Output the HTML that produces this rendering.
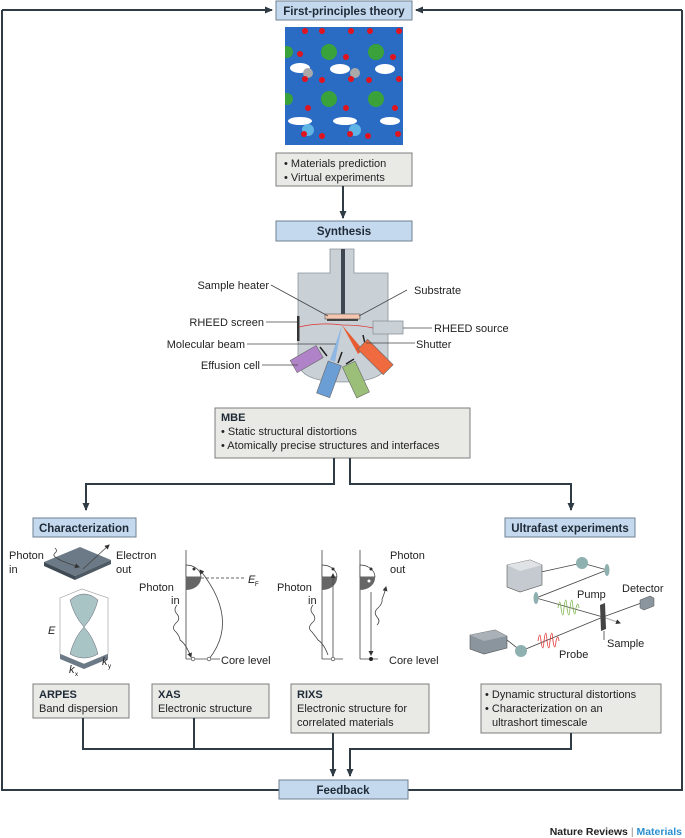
<!DOCTYPE html>
<html><head><meta charset="utf-8"><style>
body{margin:0;background:#fff;width:685px;height:838px;overflow:hidden}
svg{display:block;font-family:"Liberation Sans",sans-serif}
.bx{fill:#c5d9ee;stroke:#6f8090;stroke-width:1}
.gb{fill:#e9e9e6;stroke:#7d7d7d;stroke-width:1}
.ln{stroke:#2f3b45;stroke-width:2;fill:none}
.t{font-size:11px;fill:#222}
.tb{font-size:11.5px;font-weight:bold;fill:#1e2a36}
.thin{stroke:#444;stroke-width:0.8;fill:none}
</style></head><body>
<svg width="685" height="838" viewBox="0 0 685 838">
<defs>
<marker id="a" markerWidth="8" markerHeight="8" refX="7" refY="4" orient="auto" markerUnits="userSpaceOnUse"><path d="M0,0.5 L8,4 L0,7.5 Z" fill="#2f3b45"/></marker>
<marker id="s" markerWidth="5" markerHeight="5" refX="4" refY="2.5" orient="auto" markerUnits="userSpaceOnUse"><path d="M0,0 L5,2.5 L0,5 Z" fill="#333"/></marker>
<clipPath id="cc"><rect x="285" y="27" width="118" height="118"/></clipPath>
</defs>
<path class="ln" d="M2,10 H272" marker-end="url(#a)"/>
<path class="ln" d="M682,10 H416" marker-end="url(#a)"/>
<path class="ln" d="M2,10 V790 H279"/>
<path class="ln" d="M682,10 V790 H408"/>
<rect class="bx" x="276" y="1" width="136" height="19"/>
<text class="tb" x="344" y="15" text-anchor="middle">First-principles theory</text>
<g clip-path="url(#cc)">
<rect x="285" y="27" width="118" height="118" fill="#2a6bc4"/>
<g fill="#fff">
<ellipse cx="300" cy="68" rx="10" ry="5"/><ellipse cx="340" cy="69" rx="10" ry="5"/><ellipse cx="385" cy="69" rx="10" ry="5"/>
<ellipse cx="300" cy="121" rx="12" ry="4"/><ellipse cx="345" cy="121" rx="12" ry="4"/><ellipse cx="390" cy="121" rx="10" ry="4"/>
</g>
<g fill="#3aa23a"><circle cx="329" cy="52" r="8"/><circle cx="376" cy="52" r="8"/><circle cx="329" cy="99" r="8"/><circle cx="376" cy="99" r="8"/><circle cx="287" cy="52" r="6"/><circle cx="287" cy="99" r="6"/></g>
<g fill="#aaa"><circle cx="308" cy="73" r="5"/><circle cx="355" cy="73" r="5"/></g>
<g fill="#5fb4e6"><circle cx="308" cy="130" r="6"/><circle cx="355" cy="130" r="6"/></g>
<g fill="#e0141e"><circle cx="305" cy="31" r="3"/><circle cx="322" cy="31" r="3"/><circle cx="351" cy="31" r="3"/><circle cx="370" cy="31" r="3"/><circle cx="399" cy="31" r="3"/>
<circle cx="300" cy="54" r="3"/><circle cx="346" cy="57" r="3"/><circle cx="393" cy="57" r="3"/>
<circle cx="305" cy="79" r="3"/><circle cx="322" cy="80" r="3"/><circle cx="351" cy="79" r="3"/><circle cx="369" cy="80" r="3"/><circle cx="399" cy="79" r="3"/>
<circle cx="308" cy="108" r="3"/><circle cx="346" cy="108" r="3"/><circle cx="395" cy="108" r="3"/>
<circle cx="304" cy="134" r="3"/><circle cx="322" cy="136" r="3"/><circle cx="350" cy="134" r="3"/><circle cx="368" cy="136" r="3"/><circle cx="398" cy="134" r="3"/></g>
</g>
<rect class="gb" x="276" y="153" width="136" height="33"/>
<text class="t" x="284" y="167">• Materials prediction</text>
<text class="t" x="284" y="181">• Virtual experiments</text>
<path class="ln" d="M343,186 V218" stroke-width="1.5" marker-end="url(#a)"/>
<rect class="bx" x="276" y="221" width="136" height="20"/>
<text class="tb" x="344" y="235" text-anchor="middle">Synthesis</text>
<path d="M330,249 H354 V273 H388 V360 Q388,382 343,382 Q298,382 298,360 V273 H330 Z" fill="#c9d0d6" stroke="#8a949c" stroke-width="0.8"/>
<rect x="341" y="249" width="4" height="66" fill="#3d4650"/>
<rect x="325" y="314" width="35" height="5" fill="#f4c6b0" stroke="#555" stroke-width="0.6"/>
<rect x="327" y="319" width="31" height="2" fill="#444"/>
<rect x="297" y="316" width="2.5" height="25" fill="#333"/>
<rect x="373" y="321" width="30" height="13" fill="#c9d0d6" stroke="#8a949c" stroke-width="0.8"/>
<path d="M299,327 Q320,322 342,325 Q360,325 373,328" stroke="#d33" stroke-width="0.8" fill="none"/>
<path d="M342,325 L335,362 L330,360 Z" fill="#7fb0e6" opacity="0.8"/>
<path d="M342,325 L363,350 L358,354 Z" fill="#e85a30"/>
<g stroke="#222" stroke-width="1.5"><line x1="363" y1="335" x2="366" y2="348"/><line x1="320" y1="347" x2="327" y2="356"/><line x1="342" y1="352" x2="338" y2="363"/><line x1="346" y1="364" x2="354" y2="359"/></g>
<g transform="rotate(60 313 360)"><rect x="302" y="350" width="14" height="30" fill="#b083c8" stroke="#666" stroke-width="0.6"/></g>
<g transform="rotate(20 328 379)"><rect x="322" y="362" width="14" height="34" fill="#6c9ed6" stroke="#666" stroke-width="0.6"/></g>
<g transform="rotate(-25 355 380)"><rect x="349" y="363" width="14" height="34" fill="#9bbf78" stroke="#666" stroke-width="0.6"/></g>
<g transform="rotate(-45 374 357)"><rect x="368" y="340" width="14" height="36" fill="#ef6a3e" stroke="#666" stroke-width="0.6"/></g>
<g class="thin" stroke="#666"><path d="M271,285 L328,316"/><path d="M359,316 L407,290"/><path d="M266,322 H297"/><path d="M403,328 H432"/><path d="M247,344 H336"/><path d="M366,343 H415"/><path d="M262,365 H298"/></g>
<text class="t" x="269" y="289" text-anchor="end">Sample heater</text>
<text class="t" x="414" y="294">Substrate</text>
<text class="t" x="264" y="326" text-anchor="end">RHEED screen</text>
<text class="t" x="434" y="332">RHEED source</text>
<text class="t" x="245" y="348" text-anchor="end">Molecular beam</text>
<text class="t" x="416" y="348">Shutter</text>
<text class="t" x="260" y="369" text-anchor="end">Effusion cell</text>
<rect class="gb" x="215" y="408" width="255" height="50"/>
<text class="tb" x="221" y="421" style="font-size:11px">MBE</text>
<text class="t" x="221" y="435">• Static structural distortions</text>
<text class="t" x="221" y="449">• Atomically precise structures and interfaces</text>
<path class="ln" d="M334,458 V484 H86 V510" marker-end="url(#a)"/>
<path class="ln" d="M350,458 V484 H571 V510" marker-end="url(#a)"/>
<rect class="bx" x="33" y="518" width="103" height="19"/>
<text class="tb" x="84" y="532" text-anchor="middle">Characterization</text>
<rect class="bx" x="505" y="518" width="130" height="19"/>
<text class="tb" x="570" y="532" text-anchor="middle">Ultrafast experiments</text>
<!-- ARPES -->
<path d="M44,562 L80,547 L111,560 L75,576 Z" fill="#6b7a86"/>
<path d="M44,562 L75,576 L75,580 L44,566 Z" fill="#3f4a54"/><path d="M75,576 L111,560 L111,564 L75,580 Z" fill="#4e5a64"/>
<path d="M55,548 q3,3 0,5 q-3,3 2,5 q4,3 8,4 q4,2 14,5" class="thin" marker-end="url(#s)"/>
<path d="M83,569 L109,545" class="thin" marker-end="url(#s)"/>
<text class="t" x="9" y="559">Photon</text><text class="t" x="9" y="573">in</text>
<text class="t" x="116" y="559">Electron</text><text class="t" x="116" y="573">out</text>
<path d="M60,598 L82,589 L108,598 L108,654 L84,664 L60,654 Z" fill="none" stroke="#999" stroke-width="0.6"/>
<path d="M60,654 L84,664 L108,654 L108,659 L84,669 L60,659 Z" fill="#6b7a86"/>
<path d="M70,600 Q84,588 98,600 Q94,616 84,627 Q74,616 70,600 Z" fill="#a9c4c4" stroke="#667" stroke-width="0.5"/>
<path d="M84,627 Q94,638 98,654 Q84,662 70,654 Q74,638 84,627 Z" fill="#a9c4c4" stroke="#667" stroke-width="0.5"/>
<text class="t" x="48" y="634" font-style="italic">E</text>
<text class="t" x="69" y="673" font-style="italic">k</text><text x="75" y="676" style="font-size:6px">x</text>
<text class="t" x="102" y="665" font-style="italic">k</text><text x="108" y="668" style="font-size:6px">y</text>
<!-- XAS -->
<g class="thin"><line x1="186" y1="550" x2="186" y2="659"/><line x1="186" y1="659" x2="220" y2="659"/></g>
<path d="M186,565 A15,12 0 0 1 201,577 H186 Z" fill="#fff" stroke="#333" stroke-width="0.7"/>
<path d="M186,577 H201 A15,12 0 0 1 186,590 Z" fill="#666"/>
<circle cx="194" cy="569" r="1.5" fill="#333"/>
<path d="M201,578 H246" stroke="#333" stroke-width="0.7" stroke-dasharray="3,2"/>
<text class="t" x="248" y="583" font-style="italic">E</text><text x="255" y="586" style="font-size:6px">F</text>
<path d="M209,659 Q240,620 200,570" class="thin" marker-end="url(#s)"/>
<path d="M177,605 q-4,5 0,9 q4,5 -1,9 q-5,5 0,9 q4,5 4,8 q6,4 11,17" class="thin" marker-end="url(#s)"/>
<circle cx="193" cy="659" r="1.8" fill="#fff" stroke="#333" stroke-width="0.6"/><circle cx="209" cy="659" r="1.8" fill="#fff" stroke="#333" stroke-width="0.6"/>
<text class="t" x="139" y="591">Photon</text><text class="t" x="171" y="604">in</text>
<text class="t" x="221" y="664">Core level</text>
<!-- RIXS -->
<g class="thin"><line x1="322" y1="550" x2="322" y2="659"/><line x1="322" y1="659" x2="343" y2="659"/><line x1="360" y1="550" x2="360" y2="659"/><line x1="360" y1="659" x2="378" y2="659"/></g>
<path d="M322,565 A15,12 0 0 1 337,577 H322 Z" fill="#fff" stroke="#333" stroke-width="0.7"/>
<path d="M322,577 H337 A15,12 0 0 1 322,590 Z" fill="#666"/>
<path d="M360,565 A15,12 0 0 1 375,577 H360 Z" fill="#fff" stroke="#333" stroke-width="0.7"/>
<path d="M360,577 H375 A15,12 0 0 1 360,590 Z" fill="#666"/>
<circle cx="333" cy="569" r="1.5" fill="#333"/><circle cx="371" cy="569" r="1.5" fill="#333"/><circle cx="369" cy="581" r="1.5" fill="#fff"/>
<path d="M333,659 V574" class="thin" marker-end="url(#s)"/>
<path d="M371,592 V655" class="thin" marker-end="url(#s)"/>
<circle cx="333" cy="659" r="1.8" fill="#fff" stroke="#333" stroke-width="0.6"/><circle cx="371" cy="659" r="2" fill="#222"/>
<path d="M313,605 q-4,5 0,9 q4,5 -1,9 q-5,5 0,9 q4,5 6,8 q6,4 10,15" class="thin"/>
<path d="M377,625 q4,-4 0,-8 q-4,-5 1,-9 q5,-5 4,-9 q2,-4 4,-12" class="thin" marker-end="url(#s)"/>
<text class="t" x="277" y="591">Photon</text><text class="t" x="308" y="604">in</text>
<text class="t" x="390" y="559">Photon</text><text class="t" x="390" y="573">out</text>
<text class="t" x="389" y="664">Core level</text>
<!-- ultrafast -->
<path d="M541,572 L582,563 L607,570 M607,570 L536,598 L603,617 M507,640 L521,651 L603,617" class="thin"/>
<path d="M603,617 L644,602" class="thin"/>
<path d="M603,617 L620,623" stroke="#aaa" stroke-width="1" marker-end="url(#s)"/>
<path d="M507,565 L530,560 L542,565 L542,585 L520,592 L507,587 Z" fill="#c4cacf" stroke="#555" stroke-width="0.6"/>
<path d="M507,565 L530,560 L542,565 L520,571 Z" fill="#dfe3e6"/>
<path d="M470,635 L495,630 L507,636 L507,648 L484,654 L470,649 Z" fill="#8a959e" stroke="#555" stroke-width="0.6"/>
<path d="M470,635 L495,630 L507,636 L484,641 Z" fill="#aab2b8"/>
<circle cx="582" cy="563" r="6" fill="#8fb0b0"/><ellipse cx="607" cy="570" rx="2.5" ry="6" fill="#8fb0b0"/>
<ellipse cx="536" cy="598" rx="2.5" ry="6" fill="#8fb0b0"/><circle cx="521" cy="651" r="6" fill="#8fb0b0"/>
<path d="M600,605 L605,603 L606,629 L601,631 Z" fill="#444"/>
<path d="M640,600 L650,596 L654,598 L654,606 L644,610 L640,608 Z" fill="#8a959e" stroke="#555" stroke-width="0.5"/>
<path d="M558,608 q2,-12 3,0 q2,14 3,0 q2,-16 3,0 q2,14 3,0 q2,-16 3,0 q2,12 3,0 q2,-8 3,0" stroke="#7ab34a" stroke-width="0.8" fill="none"/>
<path d="M538,641 q2,-12 3,0 q2,14 3,0 q2,-16 3,0 q2,14 3,0 q2,-16 3,0 q2,12 3,0 q2,-8 3,0" stroke="#e03030" stroke-width="0.8" fill="none"/>
<text class="t" x="577" y="598">Pump</text><text class="t" x="622" y="592">Detector</text>
<text class="t" x="607" y="647">Sample</text><text class="t" x="559" y="658">Probe</text>
<path d="M604,631 V640" class="thin" stroke="#888"/>
<!-- bottom boxes -->
<rect class="gb" x="33" y="684" width="96" height="34"/>
<text class="tb" x="39" y="698" style="font-size:11px">ARPES</text><text class="t" x="39" y="712">Band dispersion</text>
<rect class="gb" x="152" y="684" width="117" height="34"/>
<text class="tb" x="158" y="698" style="font-size:11px">XAS</text><text class="t" x="158" y="712">Electronic structure</text>
<rect class="gb" x="291" y="684" width="138" height="49"/>
<text class="tb" x="297" y="698" style="font-size:11px">RIXS</text><text class="t" x="297" y="712">Electronic structure for</text><text class="t" x="297" y="726">correlated materials</text>
<rect class="gb" x="481" y="684" width="180" height="49"/>
<text class="t" x="485" y="698">• Dynamic structural distortions</text><text class="t" x="485" y="712">• Characterization on an</text><text class="t" x="492" y="726">ultrashort timescale</text>
<path class="ln" d="M83,718 V749 H333" stroke-width="1.5"/>
<path class="ln" d="M194,718 V749" stroke-width="1.5"/>
<path class="ln" d="M333,733 V776" stroke-width="1.5" marker-end="url(#a)"/>
<path class="ln" d="M571,733 V749 H350 V776" stroke-width="1.5" marker-end="url(#a)"/>
<rect class="bx" x="279" y="780" width="129" height="19"/>
<text class="tb" x="343" y="794" text-anchor="middle">Feedback</text>
<text x="682" y="835" text-anchor="end" style="font-size:10.5px;font-weight:bold;fill:#222">Nature Reviews <tspan fill="#888" font-weight="normal">|</tspan> <tspan fill="#2a8fd0">Materials</tspan></text>
</svg>
</body></html>
